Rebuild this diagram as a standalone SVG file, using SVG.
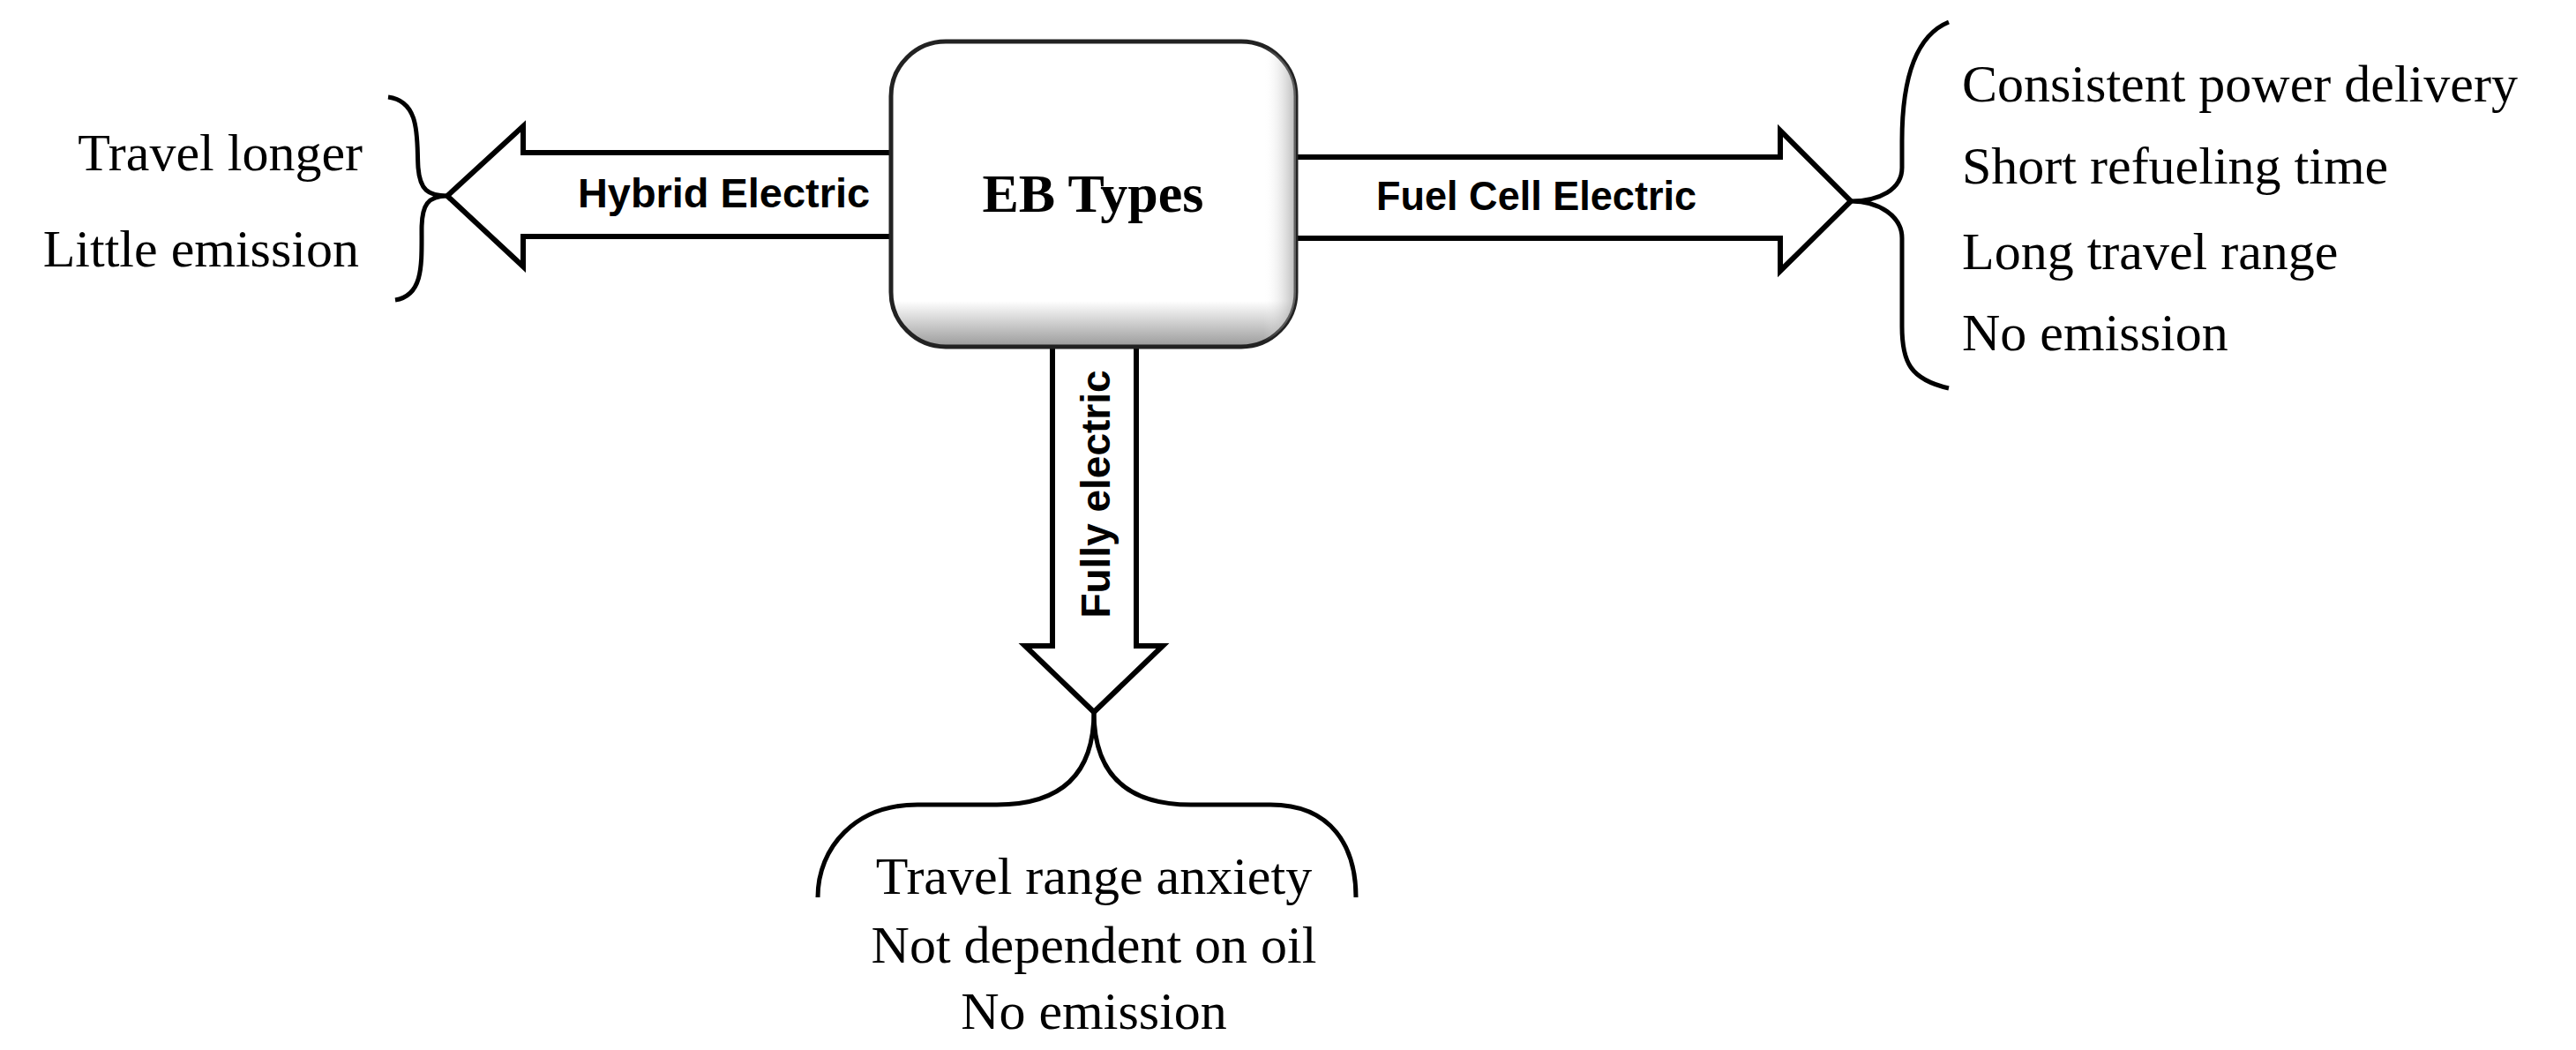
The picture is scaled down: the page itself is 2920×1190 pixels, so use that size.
<svg xmlns="http://www.w3.org/2000/svg" width="2920" height="1190" viewBox="0 0 2920 1190">
<style>
.arrow{fill:#fff;stroke:#000;stroke-width:6;stroke-linejoin:miter}
.brace{fill:none;stroke:#000;stroke-width:5}
.serif{font-family:"Liberation Serif","Times New Roman",serif;font-size:60px;fill:#000}
.lbl{font-family:"Liberation Sans Narrow","Liberation Sans",Arial,sans-serif;font-weight:bold;font-size:46px;fill:#000}
</style>
<defs>
<linearGradient id="g" x1="0" y1="0" x2="0" y2="1">
<stop offset="0" stop-color="#fff"/><stop offset="0.85" stop-color="#fff"/><stop offset="1" stop-color="#9a9a9a"/>
</linearGradient>
<linearGradient id="gh" x1="0" y1="0" x2="1" y2="0">
<stop offset="0" stop-color="#fff" stop-opacity="0"/><stop offset="0.92" stop-color="#fff" stop-opacity="0"/><stop offset="1" stop-color="#888" stop-opacity="0.6"/>
</linearGradient>
</defs>
<g id="connectors">
<path class="arrow" d="M1015,173 L593,173 L593,143 L507,222 L593,302 L593,268 L1015,268 Z"/>
<path class="arrow" d="M1465,178 L2018,178 L2018,148 L2098,228 L2018,307 L2018,270 L1465,270 Z"/>
<path class="arrow" d="M1193,385 L1193,732 L1162,732 L1240,807 L1318,732 L1288,732 L1288,385 Z"/>
<text class="lbl" x="655" y="235" textLength="331" lengthAdjust="spacingAndGlyphs">Hybrid Electric</text>
<text class="lbl" x="1560" y="238" textLength="363" lengthAdjust="spacingAndGlyphs">Fuel Cell Electric</text>
<text class="lbl" transform="translate(1258,560) rotate(-90)" text-anchor="middle" style="font-family:'Liberation Sans',Arial,sans-serif">Fully electric</text>
</g>
<g id="node-eb">
<rect x="1010" y="47" width="459" height="346" rx="62" fill="url(#g)" stroke="#222" stroke-width="5"/>
<rect x="1010" y="47" width="459" height="346" rx="62" fill="url(#gh)"/>
<text x="1239" y="240" text-anchor="middle" style="font-family:'Liberation Serif','Times New Roman',serif;font-weight:bold;font-size:62px">EB Types</text>
</g>
<g id="node-hybrid">
<path class="brace" d="M440,110 C478,115 472,160 474,190 C476,215 485,222 507,222 C485,222 478,232 478,260 C478,300 480,335 448,340"/>
<text class="serif" x="411" y="193" text-anchor="end">Travel longer</text>
<text class="serif" x="407" y="302" text-anchor="end">Little emission</text>
</g>
<g id="node-fuel">
<path class="brace" d="M2209,25 C2160,45 2156,120 2156,160 L2156,190 C2156,215 2130,228 2098,228 C2130,228 2156,245 2156,270 L2156,370 C2156,410 2165,430 2209,440"/>
<text class="serif" x="2224" y="115">Consistent power delivery</text>
<text class="serif" x="2224" y="208">Short refueling time</text>
<text class="serif" x="2224" y="305">Long travel range</text>
<text class="serif" x="2224" y="397">No emission</text>
</g>
<g id="node-fully">
<path class="brace" d="M1240,807 C1240,880 1200,912 1130,912 L1040,912 C970,912 927,960 927,1017"/>
<path class="brace" d="M1240,807 C1240,880 1280,912 1350,912 L1440,912 C1510,912 1537,960 1537,1017"/>
<text class="serif" x="1240" y="1013" text-anchor="middle">Travel range anxiety</text>
<text class="serif" x="1240" y="1091" text-anchor="middle">Not dependent on oil</text>
<text class="serif" x="1240" y="1166" text-anchor="middle">No emission</text>
</g>
</svg>
